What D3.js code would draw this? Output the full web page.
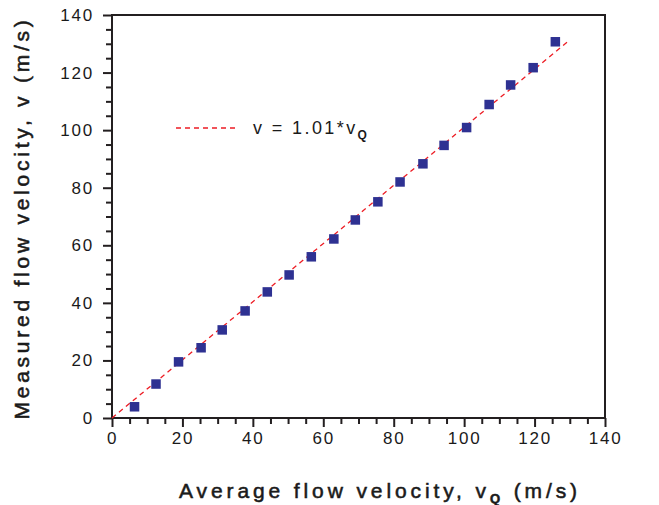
<!DOCTYPE html>
<html><head><meta charset="utf-8">
<script src="https://cdn.jsdelivr.net/npm/d3@7"></script>
<style>body{margin:0;background:#fff}svg{display:block}text{font-family:"Liberation Sans",Arial,sans-serif;fill:#1a1a1a}</style>
</head><body>
<svg id="c" width="659" height="505"></svg>
<script>
// Data
const vQ = [6.4, 12.5, 18.9, 25.3, 31.3, 37.8, 44.1, 50.3, 56.6, 63.0, 69.1, 75.5, 81.8, 88.3, 94.3, 100.7, 107.1, 113.2, 119.6, 125.9];
const vMeas = [3.9, 11.8, 19.5, 24.4, 30.6, 37.2, 43.8, 49.7, 56.0, 62.2, 68.8, 75.1, 82.0, 88.3, 94.7, 100.9, 108.9, 115.7, 121.7, 130.7];
const fitSlope = 1.01;
const fitRange = [0, 130];
const majorTicks = [0, 20, 40, 60, 80, 100, 120, 140];
const minorTicks = d3.range(0, 141, 5).filter(d => d % 20 !== 0);
const legendLabel = ["v  =  1.01*v", "Q"];

const svg = d3.select("#c");
const L = 112, R = 605, T = 15, B = 418;
const x = d3.scaleLinear().domain([0, 140]).range([L, R]);
const y = d3.scaleLinear().domain([0, 140]).range([B, T]);
const ink = "#231f20";

// frame
svg.append("rect").attr("x", L).attr("y", T).attr("width", R - L).attr("height", B - T)
  .attr("fill", "none").attr("stroke", ink).attr("stroke-width", 2);

function styleAxis(g) {
  g.select(".domain").remove();
  g.selectAll(".tick line").attr("stroke", ink).attr("stroke-width", 2);
  g.selectAll(".tick text").style("font-size", "17px").style("letter-spacing", "1.8px").attr("fill", "#1a1a1a");
}
// x axis
svg.append("g").attr("transform", `translate(0,${B})`)
  .call(d3.axisBottom(x).tickValues(minorTicks).tickSize(6).tickFormat(""))
  .call(styleAxis);
svg.append("g").attr("transform", `translate(0,${B})`)
  .call(d3.axisBottom(x).tickValues(majorTicks).tickSize(9).tickPadding(5).tickFormat(d3.format("d")))
  .call(styleAxis);
// y axis
svg.append("g").attr("transform", `translate(${L},0)`)
  .call(d3.axisLeft(y).tickValues(minorTicks).tickSize(6).tickFormat(""))
  .call(styleAxis);
svg.append("g").attr("transform", `translate(${L},0)`)
  .call(d3.axisLeft(y).tickValues(majorTicks).tickSize(9).tickPadding(9).tickFormat(d3.format("d")))
  .call(styleAxis);

// fit line
svg.append("line")
  .attr("x1", x(fitRange[0])).attr("y1", y(fitSlope * fitRange[0]))
  .attr("x2", x(fitRange[1])).attr("y2", y(fitSlope * fitRange[1]))
  .attr("stroke", "#ed1c24").attr("stroke-width", 1.3).attr("stroke-dasharray", "5,4");

// points
const s = 9.5;
svg.append("g").selectAll("rect").data(vQ.map((d, i) => [d, vMeas[i]])).join("rect")
  .attr("x", d => x(d[0]) - s / 2).attr("y", d => y(d[1]) - s / 2)
  .attr("width", s).attr("height", s).attr("fill", "#2e3192");

// legend
svg.append("line").attr("x1", 176).attr("x2", 239).attr("y1", 128).attr("y2", 128)
  .attr("stroke", "#ed1c24").attr("stroke-width", 1.3).attr("stroke-dasharray", "5,4");
const lt = svg.append("text").attr("x", 253).attr("y", 134).style("font-size", "18px").style("letter-spacing", "2.4px");
lt.append("tspan").text(legendLabel[0]);
lt.append("tspan").attr("dy", 5).style("font-size", "12px").style("font-weight", "bold").text(legendLabel[1]);

// axis titles, spaced to span the reference length
const titleStyle = t => t.style("font-size", "21px").style("letter-spacing", "3px")
  .attr("stroke", "#1a1a1a").attr("stroke-width", 0.55);
function fitLen(t, target) {
  const n = t.text().length;
  const w = t.node().getBBox().width;
  const ls = 3 + (target - w) / n;
  t.style("letter-spacing", ls + "px");
}
const xt = svg.append("text").attr("x", 380).attr("y", 498).attr("text-anchor", "middle").call(titleStyle);
xt.append("tspan").text("Average flow velocity, v");
xt.append("tspan").attr("dy", 5).style("font-size", "13px").style("font-weight", "bold").text("Q");
xt.append("tspan").attr("dy", -5).text(" (m/s)");
fitLen(xt, 402);

const yt = svg.append("text").attr("transform", "translate(28.5,218) rotate(-90)").attr("text-anchor", "middle")
  .call(titleStyle)
  .text("Measured flow velocity, v (m/s)");
fitLen(yt, 403);
</script>
</body></html>
